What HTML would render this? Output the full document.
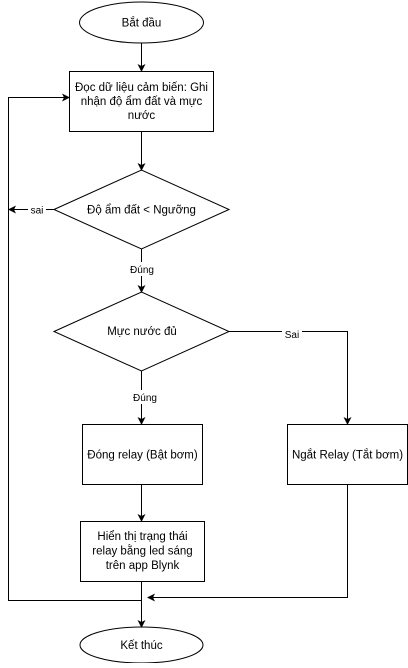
<!DOCTYPE html>
<html><head><meta charset="utf-8"><style>
html,body{margin:0;padding:0;background:#fff;}
svg text{font-family:"Liberation Sans",sans-serif;font-size:11.5px;fill:#000;}
</style></head><body>
<svg width="408" height="663" viewBox="0 0 408 663" xmlns="http://www.w3.org/2000/svg">
<defs><marker id="a" markerWidth="8" markerHeight="8" refX="7" refY="4" orient="auto" markerUnits="userSpaceOnUse"><path d="M0,0 L8,4 L0,8 L2,4 Z" fill="#000"/></marker></defs>
<g fill="#fff" stroke="#000" stroke-width="1">
<ellipse cx="141.5" cy="22.5" rx="62" ry="20.5"/>
<rect x="69.5" y="71.5" width="144" height="60"/>
<polygon points="54,209.5 141.5,170 229,209.5 141.5,249"/>
<polygon points="54,331.5 141.5,292 229,331.5 141.5,371"/>
<rect x="82.5" y="424.5" width="120" height="60"/>
<rect x="287.5" y="424.5" width="120" height="60"/>
<rect x="80.5" y="521.5" width="124" height="60"/>
<ellipse cx="141.5" cy="645" rx="61.5" ry="18"/>
</g>
<g fill="none" stroke="#000" stroke-width="1">
<line x1="141.5" y1="43" x2="141.5" y2="71" marker-end="url(#a)"/>
<line x1="141.5" y1="132" x2="141.5" y2="170" marker-end="url(#a)"/>
<line x1="141.5" y1="249" x2="141.5" y2="292" marker-end="url(#a)"/>
<line x1="54" y1="209.5" x2="9" y2="209.5" marker-end="url(#a)"/>
<line x1="141.5" y1="371" x2="141.5" y2="424" marker-end="url(#a)"/>
<polyline points="229,331.5 347.5,331.5 347.5,424" marker-end="url(#a)"/>
<line x1="141.5" y1="485" x2="141.5" y2="521" marker-end="url(#a)"/>
<line x1="141.5" y1="582" x2="141.5" y2="627" marker-end="url(#a)"/>
<polyline points="141.5,600.5 8.5,600.5 8.5,97.5 69,97.5" marker-end="url(#a)"/>
<polyline points="347.5,485 347.5,597.5 148,597.5" marker-end="url(#a)"/>
</g>
<rect x="28" y="203" width="18" height="13" fill="#fff"/>
<rect x="127" y="262" width="30" height="14" fill="#fff"/>
<rect x="282" y="326" width="20" height="14" fill="#fff"/>
<rect x="127" y="390" width="30" height="14" fill="#fff"/>
<g text-anchor="middle">
<text x="141.5" y="26.5">Bắt đầu</text>
<text x="141.5" y="91">Đọc dữ liệu cảm biến: Ghi</text>
<text x="141.5" y="105">nhận độ ẩm đất và mực</text>
<text x="141.5" y="119">nước</text>
<text x="141.5" y="213.5">Độ ẩm đất &lt; Ngưỡng</text>
<text x="37" y="213.5" style="font-size:10px">sai</text>
<text x="142" y="273" style="font-size:10px">Đúng</text>
<text x="142" y="335">Mực nước đủ</text>
<text x="292" y="338" style="font-size:10px">Sai</text>
<text x="145" y="401" style="font-size:10px">Đúng</text>
<text x="142.5" y="458.5">Đóng relay (Bật bơm)</text>
<text x="347.5" y="458.5">Ngắt Relay (Tắt bơm)</text>
<text x="142.5" y="540">Hiển thị trạng thái</text>
<text x="142.5" y="554.5">relay bằng led sáng</text>
<text x="142.5" y="569">trên app Blynk</text>
<text x="141.5" y="649">Kết thúc</text>
</g>
</svg>
</body></html>
